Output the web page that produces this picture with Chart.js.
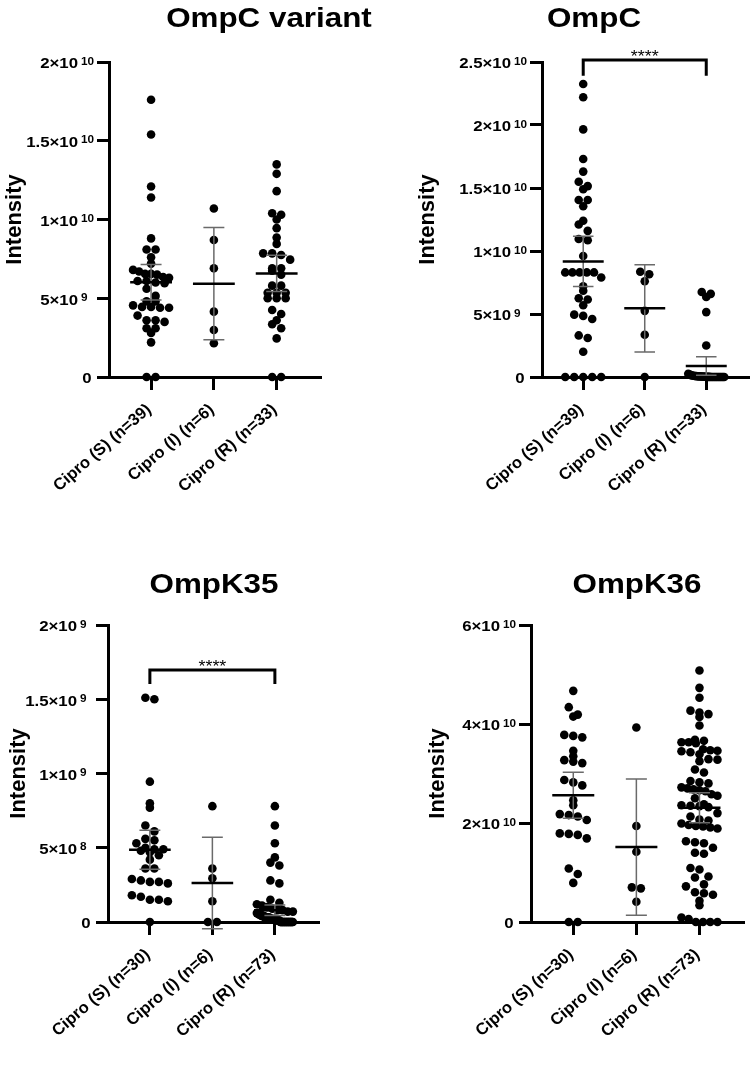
<!DOCTYPE html>
<html>
<head>
<meta charset="utf-8">
<script src="https://cdn.jsdelivr.net/npm/chart.js@4.4.1/dist/chart.umd.min.js"></script>
<style>
html,body{margin:0;padding:0;background:#fff;}
#wrap{position:relative;width:753px;height:1073px;overflow:hidden;background:#fff;}
canvas{position:absolute;}
</style>
</head>
<body>
<div id="wrap">
<canvas id="c1" width="376" height="520" style="left:0px;top:0px"></canvas>
<canvas id="c2" width="377" height="520" style="left:376px;top:0px"></canvas>
<canvas id="c3" width="376" height="553" style="left:0px;top:520px"></canvas>
<canvas id="c4" width="377" height="553" style="left:376px;top:520px"></canvas>
</div>
<script>
// ---------------- data (values in units of 1e9) ----------------
const UNIT = 1e9;

const CATS_TOP = ['Cipro (S) (n=39)', 'Cipro (I) (n=6)', 'Cipro (R) (n=33)'];
const CATS_BOTTOM = ['Cipro (S) (n=30)', 'Cipro (I) (n=6)', 'Cipro (R) (n=73)'];

// OmpC variant
const OMPCV_S = [17.6, 15.4, 12.1, 11.4, 8.8, 8.1, 8.1, 7.6, 7.2, 6.8, 6.7, 6.55, 6.55, 6.5, 6.35, 6.3, 6.1, 6.1, 6.0, 5.95, 5.6, 5.15, 4.8, 4.8, 4.55, 4.45, 4.45, 4.4, 4.4, 3.9, 3.6, 3.6, 3.5, 3.1, 3.1, 2.8, 2.2, 0, 0];
const OMPCV_I = [10.7, 8.7, 6.9, 4.15, 2.98, 2.14];
const OMPCV_R = [13.5, 12.9, 11.8, 10.4, 10.3, 10.0, 9.45, 8.85, 8.45, 7.85, 7.85, 7.75, 7.45, 6.9, 6.9, 6.75, 6.5, 5.8, 5.8, 5.35, 5.35, 5.35, 5.0, 5.0, 5.0, 4.25, 4.0, 3.6, 3.35, 3.1, 2.45, 0, 0];

// OmpC
const OMPC_S = [23.25, 22.2, 19.65, 17.3, 16.3, 15.5, 15.15, 14.9, 14.05, 14.05, 13.55, 12.4, 12.1, 11.6, 10.95, 10.85, 9.6, 8.3, 8.3, 8.3, 8.3, 8.3, 7.9, 7.2, 6.85, 6.25, 6.15, 5.7, 4.95, 4.85, 4.6, 3.3, 3.1, 2.0, 0, 0, 0, 0, 0];
const OMPC_I = [8.35, 8.15, 7.6, 5.25, 3.35, 0];
const OMPC_R = [6.75, 6.6, 6.35, 5.15, 2.5, 0.25, 0.2, 0.15, 0.12, 0.1, 0.08, 0.07, 0.06, 0.05, 0.05, 0.04, 0.03, 0.03, 0.02, 0.02, 0.01, 0.01, 0, 0, 0, 0, 0, 0, 0, 0, 0, 0, 0];

// OmpK35
const OMPK35_S = [1.51, 1.50, 0.945, 0.80, 0.77, 0.65, 0.61, 0.56, 0.55, 0.53, 0.50, 0.49, 0.49, 0.48, 0.47, 0.45, 0.42, 0.36, 0.36, 0.29, 0.28, 0.27, 0.27, 0.26, 0.18, 0.17, 0.15, 0.15, 0.14, 0];
const OMPK35_I = [0.78, 0.36, 0.295, 0.14, 0, 0];
const OMPK35_R = [0.78, 0.65, 0.53, 0.435, 0.40, 0.38, 0.28, 0.26, 0.15, 0.13,
  0.12, 0.11, 0.10, 0.09, 0.08, 0.08, 0.07, 0.07, 0.06, 0.06, 0.06, 0.05, 0.05, 0.05, 0.05, 0.04, 0.04, 0.04, 0.04, 0.04,
  0.03, 0.03, 0.03, 0.03, 0.03, 0.03, 0.03, 0.03,
  0.02, 0.02, 0.02, 0.02, 0.02, 0.02, 0.02, 0.02, 0.02, 0.02,
  0.01, 0.01, 0.01, 0.01, 0.01,
  0, 0, 0, 0, 0, 0, 0, 0, 0, 0, 0, 0, 0, 0, 0, 0, 0, 0, 0, 0];

// OmpK36
const OMPK36_S = [46.7, 43.4, 41.9, 41.5, 37.8, 37.6, 37.3, 34.6, 33.5, 32.7, 32.4, 32.1, 28.7, 28.2, 27.6, 24.6, 23.6, 21.8, 21.6, 21.3, 20.6, 17.9, 17.8, 17.6, 16.9, 10.8, 9.7, 7.9, 0, 0];
const OMPK36_I = [39.3, 19.4, 14.2, 7.0, 6.8, 4.1];
const OMPK36_R = [50.8, 47.3, 45.3, 42.7, 42.3, 42.0, 41.4, 39.7, 36.8, 36.6, 36.3, 36.3, 36.1, 34.9, 34.7, 34.6, 34.5, 34.3, 33.9, 32.9, 32.8, 32.5, 30.8, 30.2, 28.5, 28.2, 28.0, 27.2, 27.0, 26.8, 26.6, 26.4, 25.8, 25.5, 25.0, 23.8, 23.6, 23.5, 23.4, 23.2, 22.0, 21.3, 20.7, 20.5, 19.9, 19.6, 19.4, 19.3, 19.1, 18.9, 16.3, 16.1, 15.9, 15.0, 14.0, 13.8, 10.9, 10.6, 9.2, 9.0, 7.6, 7.2, 6.0, 5.8, 5.5, 4.3, 3.4, 0.9, 0.6, 0, 0, 0, 0];

// y-axis tick values (in units of 1e9)
const TICKS_OMPCV = [0, 5, 10, 15, 20];
const TICKS_OMPC = [0, 5, 10, 15, 20, 25];
const TICKS_K35 = [0, 0.5, 1, 1.5, 2];
const TICKS_K36 = [0, 20, 40, 60];

// significance brackets (in units of 1e9): [fromGroup, toGroup, top, legEnd]
const BRACKET_OMPC = [0, 2, 25.16, 23.9];
const BRACKET_K35 = [0, 2, 1.697, 1.603];
const SIG_LABEL = '****';

// ---------------- helpers ----------------
const FONT = '"Liberation Sans", Arial, Helvetica, sans-serif';
Chart.defaults.font.family = FONT;
const X_MIN = -0.67, X_MAX = 2.69;
const MEAN_HALF = 0.333, CAP_HALF = 0.167;
const BIN_PX = 9, DOT_STEP = 9, MAX_HALF = 18;
const SX = 1.12;

function tq975(df) {
  const z = 1.959964, z3 = z ** 3, z5 = z ** 5, z7 = z ** 7, z9 = z ** 9;
  return z + (z3 + z) / (4 * df) + (5 * z5 + 16 * z3 + 3 * z) / (96 * df ** 2) +
    (3 * z7 + 19 * z5 + 17 * z3 - 15 * z) / (384 * df ** 3) +
    (79 * z9 + 776 * z7 + 1482 * z5 - 1920 * z3 - 945 * z) / (92160 * df ** 4);
}
function stats(v) {
  const n = v.length;
  const m = v.reduce((a, b) => a + b, 0) / n;
  const sd = Math.sqrt(v.reduce((a, b) => a + (b - m) ** 2, 0) / (n - 1));
  const h = tq975(n - 1) * sd / Math.sqrt(n);
  return { m, lo: m - h, hi: m + h };
}
function sci(v) {
  if (v === 0) return { base: '0', exp: '' };
  const e = Math.floor(Math.log10(v) + 1e-9);
  const m = Math.round(v / Math.pow(10, e) * 100) / 100;
  return { base: m + '\u00d710', exp: String(e) };
}
function drawText(ctx, txt, x, y, align, font) {
  ctx.save();
  ctx.translate(x, y);
  ctx.scale(SX, 1);
  ctx.font = font;
  ctx.textAlign = align;
  ctx.textBaseline = 'alphabetic';
  ctx.fillText(txt, 0, 0);
  ctx.restore();
}
function swarm(vals, gi, xs, ys) {
  const ppu = xs.getPixelForValue(1) - xs.getPixelForValue(0);
  const y0 = ys.getPixelForValue(0);
  const bins = new Map();
  vals.forEach(v => {
    const b = Math.floor((y0 - ys.getPixelForValue(v)) / BIN_PX);
    if (!bins.has(b)) bins.set(b, []);
    bins.get(b).push(v);
  });
  const out = [];
  bins.forEach(list => {
    list.sort((a, b) => b - a);
    const n = list.length;
    const step = n > 1 ? Math.min(DOT_STEP, 2 * MAX_HALF / (n - 1)) : 0;
    list.forEach((v, j) => out.push({ x: gi + (j - (n - 1) / 2) * step / ppu, y: v }));
  });
  return out;
}

function decorPlugin(p) {
  return {
    id: 'decor',
    afterDraw(chart) {
      const ctx = chart.ctx, xs = chart.scales.x, ys = chart.scales.y;
      ctx.save();
      ctx.fillStyle = '#000';
      // panel title
      drawText(ctx, p.title, p.titleX, p.titleY, 'center', 'bold 28px ' + FONT);
      // y tick labels with superscript exponents
      const ax = ys.right;
      ys.ticks.forEach((t, i) => {
        const py = ys.getPixelForTick(i);
        const f = sci(t.value);
        if (!f.exp) {
          drawText(ctx, f.base, ax - 17.5, py + 6.3, 'right', 'bold 15px ' + FONT);
        } else {
          drawText(ctx, f.base, ax - 31, py + 6.3, 'right', 'bold 15px ' + FONT);
          drawText(ctx, f.exp, ax - 28, py + 2.5, 'left', 'bold 10.5px ' + FONT);
        }
      });
      // significance stars
      if (p.bracket) {
        const b = p.bracket;
        const cx = xs.getPixelForValue((b[0] + b[1]) / 2);
        const cy = ys.getPixelForValue(b[2] * UNIT);
        drawText(ctx, SIG_LABEL, cx, cy + 2, 'center', '16px ' + FONT);
      }
      ctx.restore();
    }
  };
}

function makePanel(cfg) {
  const groups = cfg.groups.map(g => g.map(v => v * UNIT));
  const st = groups.map(stats);
  const meanData = [], errData = [];
  st.forEach((s, i) => {
    meanData.push({ x: i - MEAN_HALF, y: s.m }, { x: i + MEAN_HALF, y: s.m }, { x: i + 0.5, y: null });
    errData.push(
      { x: i, y: s.lo }, { x: i, y: s.hi }, { x: i, y: null },
      { x: i - CAP_HALF, y: s.hi }, { x: i + CAP_HALF, y: s.hi }, { x: i, y: null },
      { x: i - CAP_HALF, y: s.lo }, { x: i + CAP_HALF, y: s.lo }, { x: i, y: null });
  });
  const lineDs = (data, color, width) => ({
    data, showLine: true, borderColor: color, borderWidth: width, pointRadius: 0,
    pointHoverRadius: 0, spanGaps: false, clip: false, tension: 0,
    borderCapStyle: 'butt', borderJoinStyle: 'miter'
  });
  const datasets = [];
  if (cfg.bracket) {
    const b = cfg.bracket;
    datasets.push(lineDs([
      { x: b[0], y: b[3] * UNIT }, { x: b[0], y: b[2] * UNIT },
      { x: b[1], y: b[2] * UNIT }, { x: b[1], y: b[3] * UNIT }], '#000', 3));
  }
  datasets.push(lineDs(meanData, '#000', 2.5));
  datasets.push(lineDs(errData, '#6a6a6a', 1.5));
  const dotsIdx = datasets.length;
  datasets.push({
    data: groups.flatMap((g, i) => g.map(v => ({ x: i, y: v }))),
    pointRadius: 4.3, pointHoverRadius: 4.3, pointBackgroundColor: '#000',
    pointBorderWidth: 0, showLine: false, clip: false
  });

  const gridOpts = (len) => ({
    display: true, drawOnChartArea: false, drawTicks: true, tickLength: len,
    lineWidth: 3, color: '#000'
  });
  const ticksVals = cfg.ticks.map(v => v * UNIT);
  const chart = new Chart(document.getElementById(cfg.id), {
    type: 'scatter',
    data: { datasets },
    options: {
      responsive: false, animation: false, events: [], devicePixelRatio: 1,
      layout: { padding: cfg.pad },
      plugins: { legend: { display: false }, tooltip: { enabled: false }, title: { display: false } },
      scales: {
        x: {
          type: 'linear', min: X_MIN, max: X_MAX,
          afterBuildTicks: s => { s.ticks = cfg.cats.map((_, i) => ({ value: i })); },
          afterFit: s => { s.height = cfg.xH; s.paddingLeft = 0; s.paddingRight = 0; },
          ticks: {
            autoSkip: false, minRotation: 41, maxRotation: 41, padding: 10, labelOffset: -2,
            color: '#000', font: { size: 16.5, weight: 'bold' },
            callback: v => (cfg.cats[v] !== undefined ? cfg.cats[v] : '')
          },
          grid: gridOpts(13),
          border: { display: true, width: 3, color: '#000' }
        },
        y: {
          type: 'linear', min: 0, max: ticksVals[ticksVals.length - 1],
          afterBuildTicks: s => { s.ticks = ticksVals.map(v => ({ value: v })); },
          afterFit: s => { s.width = cfg.yW; s.paddingTop = 0; s.paddingBottom = 0; },
          ticks: { display: false },
          grid: gridOpts(12),
          border: { display: true, width: 3, color: '#000' },
          title: {
            display: true, text: 'Intensity', color: '#000',
            font: { size: 22, weight: 'bold' }, padding: { top: 2, bottom: 0 }
          }
        }
      }
    },
    plugins: [decorPlugin(cfg)]
  });
  chart.data.datasets[dotsIdx].data = groups.flatMap((g, i) => swarm(g, i, chart.scales.x, chart.scales.y));
  chart.update('none');
  return chart;
}

makePanel({ id: 'c1', title: 'OmpC variant', titleX: 269, titleY: 27, cats: CATS_TOP,
  groups: [OMPCV_S, OMPCV_I, OMPCV_R], ticks: TICKS_OMPCV,
  pad: { left: 0, top: 62, right: 56, bottom: 0 }, yW: 109, xH: 143, bracket: null });
makePanel({ id: 'c2', title: 'OmpC', titleX: 218, titleY: 27, cats: CATS_TOP,
  groups: [OMPC_S, OMPC_I, OMPC_R], ticks: TICKS_OMPC,
  pad: { left: 37, top: 62, right: 0, bottom: 0 }, yW: 129, xH: 143, bracket: BRACKET_OMPC });
makePanel({ id: 'c3', title: 'OmpK35', titleX: 214, titleY: 73, cats: CATS_BOTTOM,
  groups: [OMPK35_S, OMPK35_I, OMPK35_R], ticks: TICKS_K35,
  pad: { left: 4, top: 105, right: 58, bottom: 0 }, yW: 104, xH: 151, bracket: BRACKET_K35 });
makePanel({ id: 'c4', title: 'OmpK36', titleX: 261, titleY: 73, cats: CATS_BOTTOM,
  groups: [OMPK36_S, OMPK36_I, OMPK36_R], ticks: TICKS_K36,
  pad: { left: 47, top: 105, right: 10, bottom: 0 }, yW: 108, xH: 151, bracket: null });
</script>
</body>
</html>
